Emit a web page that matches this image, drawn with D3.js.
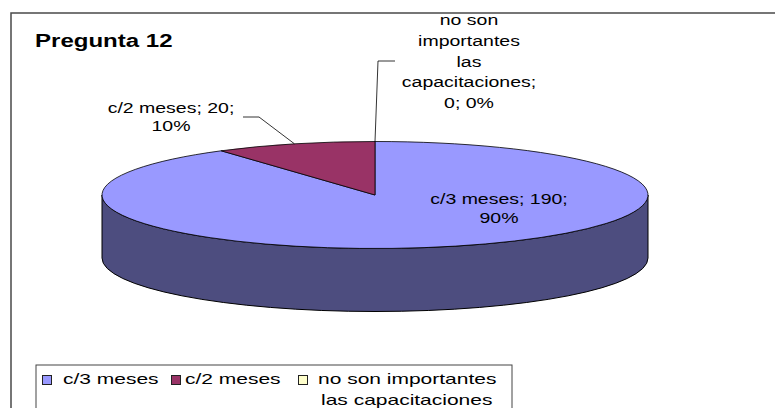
<!DOCTYPE html>
<html>
<head>
<meta charset="utf-8">
<script src="https://cdn.jsdelivr.net/npm/d3@7"></script>
<style>
  html, body { margin: 0; padding: 0; background: #fff; }
  svg { display: block; }
  text { font-family: "Liberation Sans", Arial, sans-serif; fill: #000; }
</style>
</head>
<body>
<svg id="chart" width="775" height="408"></svg>
<script>
// ---- data ----
const title = "Pregunta 12";
const categories = ["c/3 meses", "c/2 meses", "no son importantes las capacitaciones"];
const values = [190, 20, 0];
const topColors = ["#9999FF", "#993366", "#FFFFCC"];
const sideColors = ["#4D4D7F", "#4D1A33", "#80806A"];
// wrapped label lines (category part), as in the picture
const labelWrap = [
  ["c/3 meses;"],
  ["c/2 meses;"],
  ["no son", "importantes", "las", "capacitaciones;"]
];
const legendWrap = [["c/3 meses"], ["c/2 meses"], ["no son importantes", "las capacitaciones"]];

// ---- layout ----
const cx = 375, cy = 195, rx = 273, ry = 53.5, depth = 63;
const svg = d3.select("#chart");

const total = d3.sum(values);
const pct = d3.format(".0%");
const pie = d3.pie().sort(null).value(d => d).startAngle(0).endAngle(2 * Math.PI);
const arcs = pie(values);

const P = (a, dy = 0) => [cx + rx * Math.sin(a), cy - ry * Math.cos(a) + dy];

// frame
svg.append("rect").attr("x", 11).attr("y", 13).attr("width", 820).attr("height", 430)
  .attr("fill", "#fff").attr("stroke", "#4a4a4a").attr("stroke-width", 1.5);

const g = svg.append("g");

// side walls (front half only)
arcs.forEach((d, i) => {
  const a0 = Math.max(d.startAngle, Math.PI / 2);
  const a1 = Math.min(d.endAngle, 3 * Math.PI / 2);
  if (a1 <= a0) return;
  const p0 = P(a0), p1 = P(a1), q1 = P(a1, depth), q0 = P(a0, depth);
  const path = `M${p0}A${rx},${ry} 0 0 1 ${p1}L${q1}A${rx},${ry} 0 0 0 ${q0}Z`;
  g.append("path").attr("d", path).attr("fill", sideColors[i])
    .attr("stroke", "#000").attr("stroke-width", 1).attr("stroke-linejoin", "round");
});

// top faces
arcs.forEach((d, i) => {
  if (d.endAngle - d.startAngle <= 0) return;
  const p0 = P(d.startAngle), p1 = P(d.endAngle);
  const large = (d.endAngle - d.startAngle) > Math.PI ? 1 : 0;
  const path = `M${cx},${cy}L${p0}A${rx},${ry} 0 ${large} 1 ${p1}Z`;
  g.append("path").attr("d", path).attr("fill", topColors[i])
    .attr("stroke", "#000").attr("stroke-width", 0.8).attr("stroke-linejoin", "round");
});

// leader lines
const leaders = [
  null,
  { pts: [[243, 117], [259, 117]] },
  { pts: [[395, 61], [378, 61]] }
];
arcs.forEach((d, i) => {
  if (!leaders[i]) return;
  const mid = (d.startAngle + d.endAngle) / 2;
  const pts = leaders[i].pts.concat([P(mid)]);
  svg.append("path").attr("d", d3.line()(pts)).attr("fill", "none")
    .attr("stroke", "#000").attr("stroke-width", 0.8);
});

// data labels
const labelPos = [
  { x: 499, y: 204, lh: 19 },
  { x: 171, y: 113, lh: 18 },
  { x: 469, y: 25, lh: 20.8 }
];
const SX = 1.3;
arcs.forEach((d, i) => {
  const wrap = labelWrap[i].slice();
  const lines = wrap.slice(0, -1);
  const last = wrap[wrap.length - 1];
  const tail = `${d.value}; ${pct(d.value / total)}`;
  if (i === 2) { lines.push(last); lines.push(tail); }
  else { lines.push(`${last} ${d.value};`); lines.push(pct(d.value / total)); }
  const lp = labelPos[i];
  lines.forEach((t, k) => {
    svg.append("text")
      .attr("transform", `translate(${lp.x},${lp.y + k * lp.lh}) scale(${SX},1)`)
      .attr("text-anchor", "middle").attr("font-size", 15).text(t);
  });
});

// title
svg.append("text").attr("transform", "translate(35,47) scale(1.3,1)")
  .attr("font-size", 18.5).attr("font-weight", "bold").text(title);

// legend
svg.append("rect").attr("x", 36).attr("y", 365).attr("width", 476).attr("height", 60)
  .attr("fill", "#fff").attr("stroke", "#444").attr("stroke-width", 1);
const legSw = [42.5, 171.5, 298.5];
const legTx = [63, 185, 318];
categories.forEach((c, i) => {
  svg.append("rect").attr("x", legSw[i]).attr("y", 375.5).attr("width", 9).attr("height", 9)
    .attr("fill", topColors[i]).attr("stroke", "#222").attr("stroke-width", 1);
  legendWrap[i].forEach((t, k) => {
    svg.append("text")
      .attr("transform", `translate(${legTx[i] + (k ? 3 : 0)},${383.5 + k * 21}) scale(1.5,1)`)
      .attr("font-size", 14).text(t);
  });
});
</script>
</body>
</html>
